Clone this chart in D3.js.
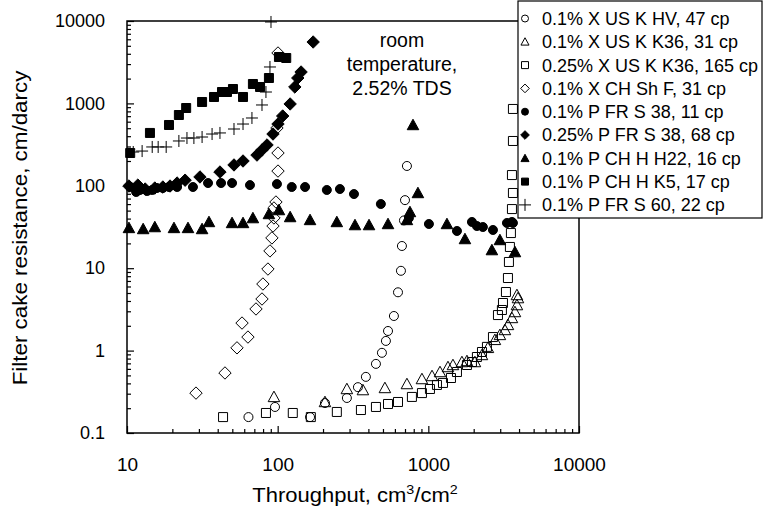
<!DOCTYPE html>
<html>
<head>
<meta charset="utf-8">
<script src="https://cdn.jsdelivr.net/npm/d3@7"></script>
<style>
  html, body { margin: 0; padding: 0; background: #fff; }
  svg { display: block; font-family: "Liberation Sans", Arial, sans-serif; }
</style>
</head>
<body>
<svg id="chart" width="763" height="510"></svg>
<script>
// ---------- data (throughput cm3/cm2, resistance cm/darcy) ----------
const xUSKHV47 = [[64,0.156],[96,0.207],[164,0.156],[206,0.231],[288,0.266],[341,0.36],[385,0.48],[449,0.69],[492,0.94],[523,1.31],[540,1.73],[591,2.63],[629,5.1],[658,9.3],[668,18.6],[689,38],[700,67],[721,174]];
const xUSKK36_31 = [[94.5,0.274],[206,0.238],[288,0.342],[368,0.332],[515,0.352],[721,0.393],[907,0.452],[1058,0.492],[1195,0.55],[1350,0.632],[1457,0.669],[1671,0.727],[1804,0.748],[2038,0.727],[2270,0.885],[2486,1.08],[2766,1.35],[2986,1.55],[3223,1.78],[3376,2.05],[3589,2.49],[3758,2.94],[3873,3.57],[3935,4.34],[3873,4.73]];
const xUSKK36_165 = [[43.4,0.156],[83.6,0.175],[126,0.175],[166,0.156],[247,0.18],[357,0.19],[449,0.207],[540,0.225],[629,0.238],[778,0.274],[907,0.305],[1025,0.342],[1141,0.383],[1251,0.405],[1413,0.465],[1549,0.55],[1804,0.669],[1947,0.727],[2101,0.836],[2270,0.962],[2449,1.11],[2685,1.46],[2898,2.7],[3078,3.11],[3128,3.78],[3274,5.14],[3376,7.6],[3427,11.9],[3479,18.1],[3533,26.7],[3589,52.2],[3643,81.8],[3589,135],[3643,350],[3643,856]];
const xCHShF31 = [[28.7,0.305],[44.7,0.535],[53.7,1.08],[58.0,2.16],[63.5,1.46],[71.8,3.2],[78.7,4.23],[79.8,6.43],[86.2,9.77],[88.9,16.2],[91.6,23.3],[93.1,32.5],[94.5,40.7],[94.5,53.8],[97.4,63.6],[100.5,151],[100.5,250],[98.9,503],[100.5,4090]];
const pFRS38_11 = [[10.5,96.7],[11.5,84.1],[12.2,89],[13.6,86.5],[14.7,89],[15.8,94],[17.3,94],[19.0,96.7],[21.5,96.7],[27.4,96.7],[34.5,108],[42.1,108],[49.8,108],[65.5,102],[98.9,105],[124,96.7],[152,96.7],[212,89],[259,91.4],[321,79.4],[484,60.1],[743,40.6],[1009,34.4],[1549,28.3],[1947,36.4],[2101,32.5],[2302,31.6],[2685,29.1],[3325,35.4],[3589,36.4],[3643,35.4]];
const pFRS38_68 = [[10.3,99.4],[11.8,102],[13.2,91.4],[15.3,94],[17.3,96.7],[19.3,99.4],[21.5,108],[24.3,117],[30.5,128],[41.4,147],[51.3,179],[58.9,200],[72.9,236],[78.7,272],[85.0,313],[93.1,425],[100.5,562],[108,703],[121,984],[130,1582],[136,2033],[143,2404],[172,5560]];
const pCHHH22 = [[10.3,30.8],[12.8,29.9],[15.3,31.6],[20.5,30.8],[25.4,30.8],[31.5,29.9],[35.0,36.4],[49.8,35.4],[58.9,35.4],[68.5,40.6],[87.5,45.5],[102,50.8],[121,41.8],[164,38.5],[247,36.4],[326,33.4],[404,33.4],[540,34.4],[721,38.5],[755,48.1],[853,81.8],[791,547],[1329,34.4],[1750,22.6],[2642,16.6],[2986,22.0],[3758,15.7]];
const pCHHK5 = [[10.5,250],[14.2,438],[19.0,547],[22.1,723],[24.7,879],[31.5,1040],[37.8,1196],[42.7,1375],[46.1,1375],[50.5,1495],[58.9,1196],[68.5,1720],[76.4,1582],[87.5,2033],[102,3658],[114,3556]];
const pFRS60 = [[11.0,257],[12.6,264],[14.7,296],[16.1,296],[18.2,296],[22.1,350],[25.0,380],[27.8,380],[31.5,391],[36.7,425],[41.4,438],[51.3,489],[58.9,562],[67.5,665],[78.7,957],[83.6,1375],[88.9,2767],[90.3,9730]];

const seriesNames = ["0.1% X US K HV, 47 cp","0.1% X US K K36, 31 cp","0.25% X US K K36, 165 cp","0.1% X CH Sh F, 31 cp","0.1% P FR S 38, 11 cp","0.25% P FR S 38, 68 cp","0.1% P CH H H22, 16 cp","0.1% P CH H K5, 17 cp","0.1% P FR S 60, 22 cp"];
const seriesData = [xUSKHV47, xUSKK36_31, xUSKK36_165, xCHShF31, pFRS38_11, pFRS38_68, pCHHH22, pCHHK5, pFRS60];
const seriesShapes = ["circle","triangle","square","diamond","circle","diamond","triangle","square","plus"];
const seriesFilled = [false,false,false,false,true,true,true,true,false];

const xTickValues = [10,100,1000,10000];
const yTickValues = [0.1,1,10,100,1000,10000];
const xTitle = "Throughput, cm";
const yTitle = "Filter cake resistance, cm/darcy";
const noteLines = ["room","temperature,","2.52% TDS"];

// ---------- layout ----------
const svg = d3.select("#chart");
const L = 127, R = 579, T = 21, B = 433;
const x = d3.scaleLog().domain([10,10000]).range([L,R]);
const y = d3.scaleLog().domain([0.1,10000]).range([B,T]);

function minorTicks(domain){
  const out=[];
  for(let p=Math.log10(domain[0]); p<Math.log10(domain[1]); p++){
    for(let k=2;k<=9;k++) out.push(k*Math.pow(10,p));
  }
  return out;
}

// frame
svg.append("rect").attr("x",L).attr("y",T).attr("width",R-L).attr("height",B-T)
  .attr("fill","none").attr("stroke","#000").attr("stroke-width",1.5);

// axes
const fmt = d => d>=1 ? d3.format("d")(d) : String(d);
svg.append("g").attr("transform",`translate(${L},0)`)
  .call(d3.axisLeft(y).tickValues(yTickValues).tickSize(-7).tickPadding(22).tickFormat(fmt));
svg.append("g").attr("transform",`translate(${L},0)`)
  .call(d3.axisLeft(y).tickValues(minorTicks(y.domain())).tickSize(-4).tickFormat(""));
svg.append("g").attr("class","xmaj").attr("transform",`translate(0,${B})`)
  .call(d3.axisBottom(x).tickValues(xTickValues).tickSize(-7).tickPadding(25).tickFormat(fmt));
svg.append("g").attr("transform",`translate(0,${B})`)
  .call(d3.axisBottom(x).tickValues(minorTicks(x.domain())).tickSize(-4).tickFormat(""));
svg.selectAll(".domain").remove();
svg.selectAll(".tick line").attr("stroke","#000").attr("stroke-width",1.2);
svg.selectAll(".tick text").attr("font-size",18).attr("fill","#000")
  .attr("font-family",'"Liberation Sans", Arial, sans-serif');
svg.selectAll(".xmaj .tick text").attr("font-size",19);

// axis titles
const xt = svg.append("text").attr("transform","translate(355,502) scale(1.1,1)")
  .attr("text-anchor","middle").attr("font-size",20).attr("fill","#000");
xt.append("tspan").text(xTitle);
xt.append("tspan").attr("dy",-8).attr("font-size",13).text("3");
xt.append("tspan").attr("dy",8).text("/cm");
xt.append("tspan").attr("dy",-8).attr("font-size",13).text("2");

svg.append("text").attr("transform","translate(27,228) rotate(-90) scale(1.12,1)").attr("text-anchor","middle")
  .attr("font-size",20).attr("fill","#000").text(yTitle);

// annotation
svg.append("text").attr("text-anchor","middle").attr("font-size",19.5).attr("fill","#000")
  .selectAll("tspan").data(noteLines).join("tspan")
  .attr("x",402).attr("y",(d,i)=>47+i*24).text(d=>d);

// marker shapes
function shapePath(shape, s){
  const h=s/2;
  switch(shape){
    case "circle": return `M${h},0A${h},${h} 0 1,1 ${-h},0A${h},${h} 0 1,1 ${h},0Z`;
    case "square": return `M${-h},${-h}H${h}V${h}H${-h}Z`;
    case "triangle": { const t=s*1.05; return `M0,${-t*0.55}L${t*0.55},${t*0.45}L${-t*0.55},${t*0.45}Z`; }
    case "diamond": { const d=s*0.62; return `M0,${-d}L${d},0L0,${d}L${-d},0Z`; }
    case "plus": { const p=s*0.6; return `M${-p},0H${p}M0,${-p}V${p}`; }
  }
}

const plot = svg.append("g");
seriesData.forEach((data,i)=>{
  const shape = seriesShapes[i], filled = seriesFilled[i];
  const size = shape==="circle"?9:(shape==="square"?9:10);
  plot.append("g").selectAll("path").data(data).join("path")
    .attr("transform",d=>`translate(${x(d[0])},${y(d[1])})`)
    .attr("d",shapePath(shape,size))
    .attr("fill", shape==="plus" ? "none" : (filled ? "#000" : "#fff"))
    .attr("fill-opacity", filled ? 1 : 0)
    .attr("stroke","#000").attr("stroke-width",1);
});

// legend
const lg = svg.append("g");
lg.append("rect").attr("x",518).attr("y",1).attr("width",244).attr("height",217)
  .attr("fill","#fff").attr("stroke","#000").attr("stroke-width",1.2);
seriesNames.forEach((name,i)=>{
  const cy = 18.5 + i*23.3;
  const shape = seriesShapes[i], filled = seriesFilled[i];
  lg.append("path").attr("transform",`translate(525,${cy})`)
    .attr("d",shapePath(shape, shape==="plus"?10:7))
    .attr("fill", shape==="plus" ? "none" : (filled ? "#000" : "#fff"))
    .attr("stroke","#000").attr("stroke-width",1);
  lg.append("text").attr("x",542).attr("y",cy+6.4).attr("font-size",18).attr("fill","#000").text(name);
});
</script>
</body>
</html>
